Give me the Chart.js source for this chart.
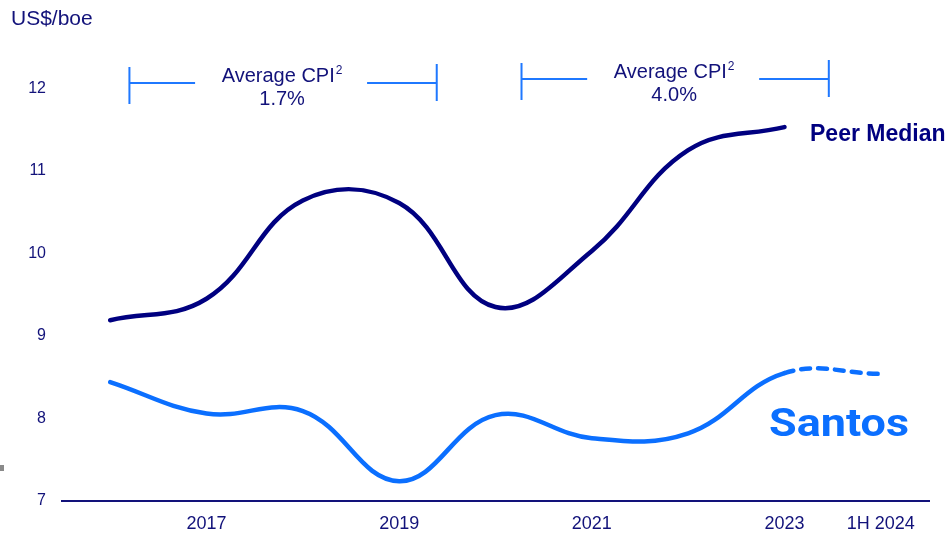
<!DOCTYPE html>
<html>
<head>
<meta charset="utf-8">
<script src="https://cdn.jsdelivr.net/npm/chart.js@4.4.1/dist/chart.umd.min.js"></script>
<style>
  body { margin: 0; background: #fff; }
  #wrap { width: 948px; height: 534px; position: relative; }
</style>
</head>
<body>
<div id="wrap"><canvas id="myChartCanvas" width="948" height="534"></canvas></div>
<script>
// values (US$/boe)
const years = ['2016', '2017', '2018', '2019', '2020', '2021', '2022', '2023', '1H 2024'];
const shownYears = ['2017', '2019', '2021', '2023', '1H 2024'];
const peerMedian = [9.19, 9.45, 10.64, 10.61, 9.35, 10.03, 11.25, 11.53, null];
const santos = [8.44, 8.06, 8.09, 7.24, 8.04, 7.76, 7.82, 8.55, 8.54];
const yTicks = [7, 8, 9, 10, 11, 12];
const cpiValues = ['1.7%', '4.0%'];

const navy = '#12127a';
const peerColor = '#000080';
const santosColor = '#0b6fff';
const bracketColor = '#1f78ff';

// text, brackets and the logo drawn on top of the chart
const overlay = {
    id: 'overlay',
    afterDraw(chart) {
        const c = chart.ctx;
        const x = chart.scales.x;
        const step = x.getPixelForValue(1) - x.getPixelForValue(0);
        const px = v => x.getPixelForValue(0) + v * step;
        c.save();

        c.fillStyle = navy;
        c.font = '21px "Liberation Sans", Arial, sans-serif';
        c.textAlign = 'left';
        c.textBaseline = 'alphabetic';
        c.fillText('US$/boe', 11, 25);

        // CPI brackets
        const brackets = [
            { l: px(0.2), r: px(3.39), y: 83 },
            { l: px(4.27), r: px(7.46), y: 79 }
        ];
        brackets.forEach(function (b, i) {
            const mid = (b.l + b.r) / 2 - 1;
            c.strokeStyle = bracketColor;
            c.lineWidth = 2;
            c.beginPath();
            c.moveTo(b.l, b.y - 16); c.lineTo(b.l, b.y + 21);
            c.moveTo(b.l, b.y); c.lineTo(mid - 87, b.y);
            c.moveTo(mid + 85, b.y); c.lineTo(b.r, b.y);
            c.moveTo(b.r, b.y - 19); c.lineTo(b.r, b.y + 18);
            c.stroke();

            c.fillStyle = navy;
            c.font = '20px "Liberation Sans", Arial, sans-serif';
            const main = 'Average CPI';
            const w = c.measureText(main).width;
            c.font = '12px "Liberation Sans", Arial, sans-serif';
            const sw = c.measureText('2').width;
            const start = mid - (w + sw + 1) / 2;
            c.textAlign = 'left';
            c.font = '20px "Liberation Sans", Arial, sans-serif';
            c.fillText(main, start, b.y - 1);
            c.font = '12px "Liberation Sans", Arial, sans-serif';
            c.fillText('2', start + w + 1, b.y - 9);
            c.font = '20px "Liberation Sans", Arial, sans-serif';
            c.textAlign = 'center';
            c.fillText(cpiValues[i], mid, b.y + 22);
        });

        // series labels
        c.textAlign = 'left';
        c.fillStyle = peerColor;
        c.font = 'bold 23px "Liberation Sans", Arial, sans-serif';
        c.fillText('Peer Median', 810, 141);

        c.fillStyle = santosColor;
        c.font = 'bold 38px Roboto, "Liberation Sans", sans-serif';
        const sw2 = c.measureText('Santos').width;
        c.save();
        c.translate(769, 436);
        c.scale(140 / sw2, 1);
        c.fillText('Santos', 0, 0);
        c.restore();

        c.fillStyle = '#8a8a8a';
        c.fillRect(0, 465, 4, 6);
        c.restore();
    }
};

const lineChart = new Chart(document.getElementById('myChartCanvas'), {
    type: 'line',
    data: {
        labels: years,
        datasets: [{
            label: 'Peer Median',
            data: peerMedian,
            borderColor: peerColor,
            borderWidth: 4.5,
            borderCapStyle: 'round',
            tension: 0.4,
            pointRadius: 0
        }, {
            label: 'Santos',
            data: santos,
            borderColor: santosColor,
            borderWidth: 4.5,
            borderCapStyle: 'round',
            tension: 0.4,
            pointRadius: 0,
            segment: {
                borderDash: ctx => ctx.p1DataIndex === santos.length - 1 ? [9, 8] : undefined
            }
        }]
    },
    options: {
        responsive: false,
        animation: false,
        layout: { padding: { top: 47, right: 19, left: 0, bottom: 0 } },
        plugins: {
            legend: { display: false },
            tooltip: { enabled: false }
        },
        scales: {
            x: {
                offset: true,
                grid: { display: false, drawTicks: false },
                border: { display: true, color: navy, width: 2 },
                ticks: {
                    color: navy,
                    font: { size: 18, family: '"Liberation Sans", Arial, sans-serif' },
                    padding: 12,
                    autoSkip: false,
                    maxRotation: 0,
                    callback: function (value, index) {
                        const lab = this.getLabelForValue(value);
                        return shownYears.includes(lab) ? lab : '';
                    }
                },
                afterFit: s => { s.height = 33; }
            },
            y: {
                min: 7,
                max: 12.5,
                grid: { display: false, drawTicks: false },
                border: { display: false },
                ticks: {
                    color: navy,
                    font: { size: 16, family: '"Liberation Sans", Arial, sans-serif' },
                    padding: 16
                },
                afterBuildTicks: s => { s.ticks = yTicks.map(v => ({ value: v })); },
                afterFit: s => { s.width = 62; }
            }
        }
    },
    plugins: [overlay]
});
</script>
</body>
</html>
